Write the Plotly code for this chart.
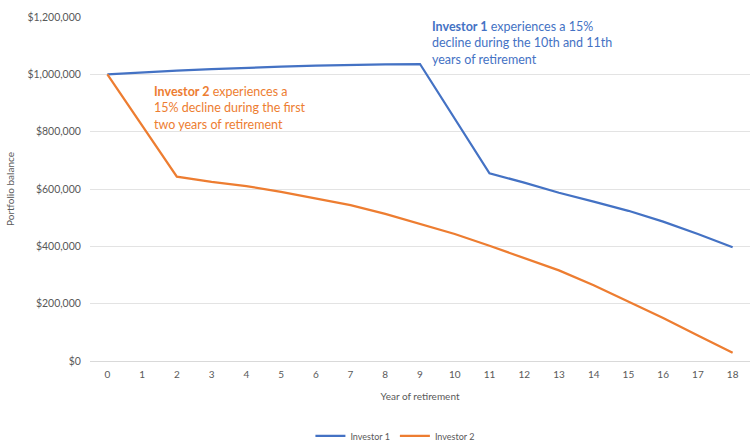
import plotly.graph_objects as go

# Years of retirement (category axis)
years = [str(y) for y in range(19)]

# Portfolio balance by year for each investor
investor_1 = [1000000, 1007000, 1013000, 1018000, 1023000, 1027000, 1030000,
              1033000, 1035000, 1036000, 845000, 655000, 622000, 587000,
              556000, 524000, 486000, 443000, 397000]
investor_2 = [1000000, 821000, 643000, 625000, 610000, 590000, 568000,
              544000, 513000, 478000, 443000, 402000, 358000, 316000,
              264000, 207000, 150000, 89000, 29000]

y_ticks = [0, 200000, 400000, 600000, 800000, 1000000, 1200000]
y_tick_labels = ["$0", "$200,000", "$400,000", "$600,000", "$800,000",
                 "$1,000,000", "$1,200,000"]

BLUE = "#4472C4"
ORANGE = "#ED7D31"
GRAY = "#595959"
FONT = "Lato, 'Open Sans', sans-serif"

fig = go.Figure()
fig.add_trace(go.Scatter(x=years, y=investor_1, mode="lines", name="Investor 1",
                         line=dict(color=BLUE, width=2.25)))
fig.add_trace(go.Scatter(x=years, y=investor_2, mode="lines", name="Investor 2",
                         line=dict(color=ORANGE, width=2.25)))

fig.add_annotation(
    x=9.3, y=1200000, xref="x", yref="y", xanchor="left", yanchor="top",
    align="left", showarrow=False,
    text="<b>Investor 1</b> experiences a 15%<br>decline during the 10th and 11th<br>years of retirement",
    font=dict(family=FONT, size=12.5, color=BLUE),
)
fig.add_annotation(
    x=1.28, y=975000, xref="x", yref="y", xanchor="left", yanchor="top",
    align="left", showarrow=False,
    text="<b>Investor 2</b> experiences a<br>15% decline during the first<br>two years of retirement",
    font=dict(family=FONT, size=12.5, color=ORANGE),
)

fig.update_layout(
    width=751, height=441,
    margin=dict(l=90, r=1, t=17, b=80, autoexpand=False),
    paper_bgcolor="white", plot_bgcolor="white",
    font=dict(family=FONT, color=GRAY, size=10),
    showlegend=True,
    legend=dict(orientation="h", x=0.462, xanchor="center", xref="paper",
                y=-0.218, yanchor="middle", yref="paper",
                font=dict(size=9, color=GRAY), itemwidth=30,
                tracegroupgap=0),
)
fig.update_xaxes(
    type="category", range=[-0.5, 18.5], automargin=False,
    showgrid=False, showline=True, linecolor="#D9D9D9", linewidth=1,
    ticks="outside", ticklen=4, tickcolor="rgba(0,0,0,0)",
    tickfont=dict(size=10, color=GRAY),
    title=dict(text="Year of retirement", font=dict(size=10, color=GRAY), standoff=13),
)
fig.update_yaxes(
    range=[0, 1200000], tickvals=y_ticks, ticktext=y_tick_labels, automargin=False,
    showgrid=True, gridcolor="#E3E3E3", gridwidth=1, zeroline=False,
    showline=False, ticks="outside", ticklen=6, tickcolor="rgba(0,0,0,0)",
    tickfont=dict(size=10.5, color=GRAY),
    title=dict(text="Portfolio balance", font=dict(size=10, color=GRAY), standoff=10),
)

fig.write_html("out.html")
